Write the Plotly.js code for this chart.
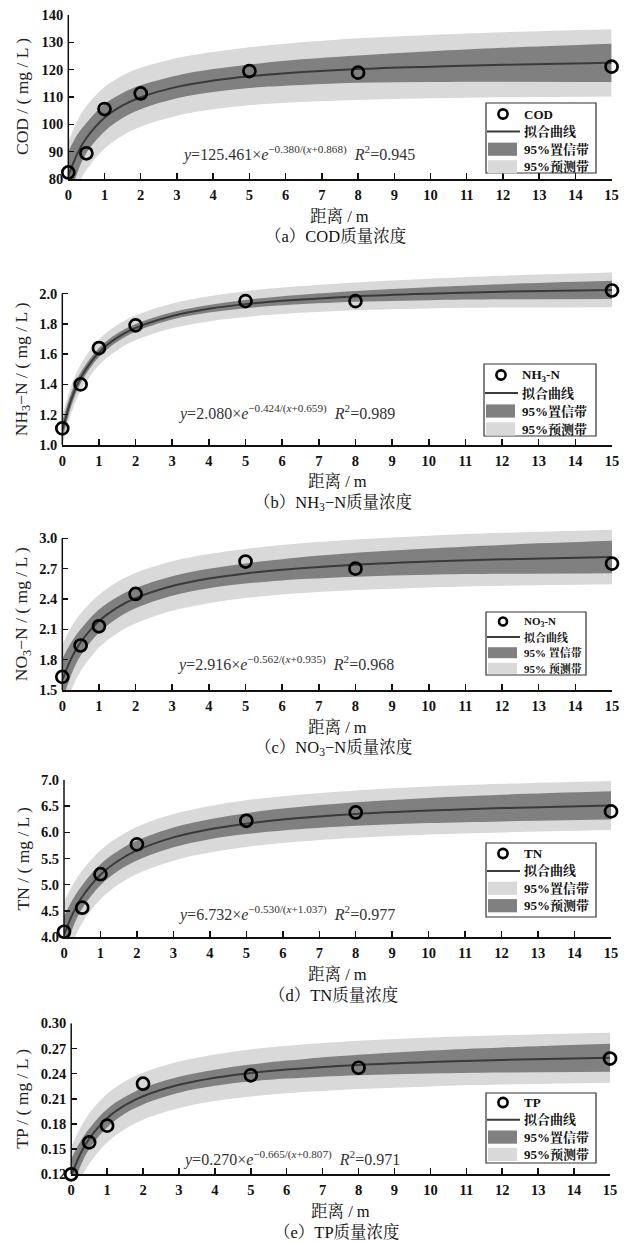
<!DOCTYPE html>
<html>
<head>
<meta charset="utf-8">
<script src="https://cdn.plot.ly/plotly-3.0.1.min.js"></script>
<style>
html,body{margin:0;padding:0;background:#fff;}
#chart{width:631px;height:1243px;}
</style>
</head>
<body>
<div id="chart"></div>
<script>
// ---------------- data ----------------
const distanceM = [0, 0.5, 1, 2, 5, 8, 15];
const codObs = [82.4, 89.4, 105.6, 111.3, 119.5, 118.9, 121.1];
const nh3Obs = [1.11, 1.40, 1.64, 1.79, 1.95, 1.95, 2.02];
const no3Obs = [1.63, 1.94, 2.13, 2.45, 2.77, 2.70, 2.75];
const tnObs  = [4.10, 4.56, 5.20, 5.77, 6.22, 6.38, 6.40];
const tpObs  = [0.120, 0.158, 0.178, 0.228, 0.238, 0.247, 0.258];

const curveX = [0, 0.25, 0.5, 1, 1.5, 2, 3, 4, 5, 6, 8, 10, 12, 15];

const codFit    = [81.0, 89.3, 95.0, 102.4, 106.9, 109.9, 113.7, 116.0, 117.6, 118.7, 120.2, 121.1, 121.8, 122.5];
const codConfLo = [72.0, 82.3, 89.5, 97.4, 102.3, 105.5, 109.5, 111.8, 113.3, 114.1, 115.2, 115.5, 115.6, 115.5];
const codConfHi = [90.0, 96.3, 100.5, 107.4, 111.5, 114.3, 117.9, 120.2, 121.9, 123.3, 125.2, 126.7, 128.0, 129.5];
const codPredLo = [68.5, 77.3, 83.3, 91.1, 95.9, 99.1, 103.1, 105.5, 107.0, 107.9, 108.9, 109.5, 109.9, 110.2];
const codPredHi = [93.5, 101.3, 106.7, 113.7, 117.9, 120.7, 124.3, 126.5, 128.2, 129.5, 131.5, 132.7, 133.7, 134.8];

const nh3Fit    = [1.093, 1.305, 1.443, 1.611, 1.709, 1.773, 1.852, 1.899, 1.930, 1.952, 1.981, 1.999, 2.012, 2.024];
const nh3ConfLo = [1.033, 1.260, 1.408, 1.581, 1.682, 1.748, 1.828, 1.874, 1.903, 1.922, 1.945, 1.956, 1.962, 1.964];
const nh3ConfHi = [1.153, 1.350, 1.478, 1.641, 1.736, 1.798, 1.876, 1.924, 1.957, 1.982, 2.017, 2.042, 2.062, 2.084];
const nh3PredLo = [0.993, 1.215, 1.356, 1.526, 1.626, 1.691, 1.770, 1.816, 1.845, 1.865, 1.889, 1.901, 1.907, 1.910];
const nh3PredHi = [1.193, 1.395, 1.530, 1.696, 1.792, 1.855, 1.934, 1.982, 2.015, 2.039, 2.073, 2.097, 2.117, 2.138];

const no3Fit    = [1.599, 1.815, 1.971, 2.181, 2.315, 2.408, 2.528, 2.602, 2.652, 2.689, 2.738, 2.770, 2.792, 2.815];
const no3ConfLo = [1.389, 1.655, 1.841, 2.066, 2.210, 2.308, 2.431, 2.505, 2.552, 2.584, 2.620, 2.640, 2.649, 2.655];
const no3ConfHi = [1.809, 1.975, 2.101, 2.296, 2.420, 2.508, 2.625, 2.699, 2.752, 2.794, 2.856, 2.900, 2.935, 2.975];
const no3PredLo = [1.249, 1.505, 1.686, 1.921, 2.062, 2.158, 2.283, 2.359, 2.409, 2.444, 2.488, 2.514, 2.530, 2.545];
const no3PredHi = [1.949, 2.125, 2.256, 2.441, 2.568, 2.658, 2.773, 2.845, 2.895, 2.934, 2.988, 3.026, 3.054, 3.085];

const tnFit    = [4.038, 4.460, 4.769, 5.190, 5.462, 5.654, 5.904, 6.060, 6.166, 6.244, 6.349, 6.416, 6.463, 6.513];
const tnConfLo = [3.688, 4.190, 4.549, 4.990, 5.272, 5.464, 5.714, 5.870, 5.966, 6.034, 6.124, 6.176, 6.208, 6.243];
const tnConfHi = [4.388, 4.730, 4.989, 5.390, 5.652, 5.844, 6.094, 6.250, 6.366, 6.454, 6.574, 6.656, 6.718, 6.783];
const tnPredLo = [3.398, 3.910, 4.269, 4.720, 5.007, 5.204, 5.459, 5.615, 5.721, 5.797, 5.897, 5.958, 5.999, 6.043];
const tnPredHi = [4.678, 5.010, 5.269, 5.660, 5.917, 6.104, 6.349, 6.505, 6.611, 6.691, 6.801, 6.874, 6.927, 6.983];

const tpFit    = [0.1184, 0.1439, 0.1623, 0.1869, 0.2024, 0.2131, 0.2267, 0.2351, 0.2408, 0.2449, 0.2504, 0.2539, 0.2563, 0.2589];
const tpConfLo = [0.0984, 0.1289, 0.1503, 0.1759, 0.1924, 0.2033, 0.2172, 0.2255, 0.2308, 0.2342, 0.2382, 0.2402, 0.2413, 0.2421];
const tpConfHi = [0.1384, 0.1589, 0.1743, 0.1979, 0.2124, 0.2229, 0.2362, 0.2447, 0.2508, 0.2556, 0.2626, 0.2676, 0.2713, 0.2757];
const tpPredLo = [0.0844, 0.1129, 0.1323, 0.1579, 0.1739, 0.1851, 0.1989, 0.2073, 0.2128, 0.2167, 0.2217, 0.2248, 0.2269, 0.2291];
const tpPredHi = [0.1524, 0.1749, 0.1923, 0.2159, 0.2309, 0.2411, 0.2545, 0.2629, 0.2688, 0.2731, 0.2791, 0.2830, 0.2857, 0.2887];

const xTicks   = [0,1,2,3,4,5,6,7,8,9,10,11,12,13,14,15];
const codTicks = [80, 90, 100, 110, 120, 130, 140];
const nh3Ticks = [1.0, 1.2, 1.4, 1.6, 1.8, 2.0];
const no3Ticks = [1.5, 1.8, 2.1, 2.4, 2.7, 3.0];
const tnTicks  = [4.0, 4.5, 5.0, 5.5, 6.0, 6.5, 7.0];
const tpTicks  = [0.12, 0.15, 0.18, 0.21, 0.24, 0.27, 0.30];

const seriesNames = ['COD', 'NH<sub>3</sub>-N', 'NO<sub>3</sub>-N', 'TN', 'TP'];
const yTitles = ['COD / ( mg / L )', 'NH<sub>3</sub>−N / ( mg / L )', 'NO<sub>3</sub>−N / ( mg / L )', 'TN / ( mg / L )', 'TP / ( mg / L )'];
const captions = ['（a）COD质量浓度', '（b）NH<sub>3</sub>−N质量浓度', '（c）NO<sub>3</sub>−N质量浓度', '（d）TN质量浓度', '（e）TP质量浓度'];
const equations = [
  '<i>y</i>=125.461×<i>e</i><sup>−0.380/(<i>x</i>+0.868)</sup>\u00a0\u00a0<i>R</i><sup>2</sup>=0.945',
  '<i>y</i>=2.080×<i>e</i><sup>−0.424/(<i>x</i>+0.659)</sup>\u00a0\u00a0<i>R</i><sup>2</sup>=0.989',
  '<i>y</i>=2.916×<i>e</i><sup>−0.562/(<i>x</i>+0.935)</sup>\u00a0\u00a0<i>R</i><sup>2</sup>=0.968',
  '<i>y</i>=6.732×<i>e</i><sup>−0.530/(<i>x</i>+1.037)</sup>\u00a0\u00a0<i>R</i><sup>2</sup>=0.977',
  '<i>y</i>=0.270×<i>e</i><sup>−0.665/(<i>x</i>+0.807)</sup>\u00a0\u00a0<i>R</i><sup>2</sup>=0.971'
];
const fitLabel = '拟合曲线';
const confLabels = ['95%置信带', '95%置信带', '95% 置信带', '95%预测带', '95%置信带'];
const predLabels = ['95%预测带', '95%预测带', '95% 预测带', '95%置信带', '95%预测带'];

// ---------------- layout helpers ----------------
const W = 631, H = 1243;
const FONT = "'Liberation Serif', 'Times New Roman', 'Noto Serif CJK SC', 'Noto Sans CJK SC', serif";
const LIGHT = '#d9d9d9', DARK = '#808080', CURVE = '#3a3a3a';
const fx = p => p / W;
const fy = p => 1 - p / H;

const panels = [
  {obs: codObs, fit: codFit, cLo: codConfLo, cHi: codConfHi, pLo: codPredLo, pHi: codPredHi, ticks: codTicks, fmt: '.0f',
   xPix: [68.3, 611.6], yPix: [179, 15], range: [80, 140], eqPix: [180, 154], swapShade: false,
   leg: {left: 486, right: 596, top: 103, h: 70, row0: 11, gap: 17.6, size: 13}},
  {obs: nh3Obs, fit: nh3Fit, cLo: nh3ConfLo, cHi: nh3ConfHi, pLo: nh3PredLo, pHi: nh3PredHi, ticks: nh3Ticks, fmt: '.1f',
   xPix: [62.3, 612], yPix: [445, 270.8], range: [1.0, 2.15], eqPix: [176, 412], swapShade: false,
   leg: {left: 484, right: 596, top: 364, h: 72, row0: 11, gap: 18, size: 13}},
  {obs: no3Obs, fit: no3Fit, cLo: no3ConfLo, cHi: no3ConfHi, pLo: no3PredLo, pHi: no3PredHi, ticks: no3Ticks, fmt: '.1f',
   xPix: [62.3, 612], yPix: [690, 528.2], range: [1.5, 3.1], eqPix: [175, 663], swapShade: false,
   leg: {left: 486, right: 586, top: 612, h: 63, row0: 9.5, gap: 15.6, size: 11}},
  {obs: tnObs, fit: tnFit, cLo: tnConfLo, cHi: tnConfHi, pLo: tnPredLo, pHi: tnPredHi, ticks: tnTicks, fmt: '.1f',
   xPix: [64, 611], yPix: [937, 780], range: [4.0, 7.0], eqPix: [176, 913], swapShade: true,
   leg: {left: 486, right: 596, top: 843, h: 74, row0: 10.5, gap: 17.4, size: 13}},
  {obs: tpObs, fit: tpFit, cLo: tpConfLo, cHi: tpConfHi, pLo: tpPredLo, pHi: tpPredHi, ticks: tpTicks, fmt: '.2f',
   xPix: [71.2, 610], yPix: [1174.3, 1023.3], range: [0.12, 0.30], eqPix: [181, 1158], swapShade: false,
   leg: {left: 486, right: 596, top: 1093, h: 70, row0: 9.5, gap: 17.3, size: 13}}
];

const data = [];
const layout = {
  width: W, height: H,
  margin: {l: 0, r: 0, t: 0, b: 0},
  paper_bgcolor: '#fff', plot_bgcolor: 'rgba(0,0,0,0)',
  font: {family: FONT, color: '#111'},
  showlegend: false,
  annotations: [], shapes: []
};

panels.forEach((p, i) => {
  const s = i === 0 ? '' : String(i + 1);
  const xa = 'x' + s, ya = 'y' + s;
  const common = {xaxis: xa, yaxis: ya, hoverinfo: 'skip'};

  data.push(Object.assign({x: curveX, y: p.pLo, mode: 'lines', line: {width: 0, shape: 'spline'}}, common));
  data.push(Object.assign({x: curveX, y: p.pHi, mode: 'lines', line: {width: 0, shape: 'spline'}, fill: 'tonexty',
    fillcolor: LIGHT, name: predLabels[i]}, common));
  data.push(Object.assign({x: curveX, y: p.cLo, mode: 'lines', line: {width: 0, shape: 'spline'}}, common));
  data.push(Object.assign({x: curveX, y: p.cHi, mode: 'lines', line: {width: 0, shape: 'spline'}, fill: 'tonexty',
    fillcolor: DARK, name: confLabels[i]}, common));
  data.push(Object.assign({x: curveX, y: p.fit, mode: 'lines', line: {color: CURVE, width: 2, shape: 'spline'},
    name: fitLabel}, common));
  data.push(Object.assign({x: distanceM, y: p.obs, mode: 'markers', cliponaxis: false,
    marker: {symbol: 'circle-open', size: 12, color: '#000', line: {width: 2.7, color: '#000'}},
    name: seriesNames[i]}, common));

  layout['xaxis' + s] = {
    domain: [fx(p.xPix[0]), fx(p.xPix[1])], anchor: ya, range: [0, 15],
    tickvals: xTicks, ticks: 'inside', ticklen: 6, tickwidth: 1.5, tickcolor: '#111',
    showline: true, linewidth: 1.5, linecolor: '#111', showgrid: false, zeroline: false,
    tickfont: {family: FONT, size: 14.5, color: '#111', weight: 700}, ticklabelstandoff: 2, fixedrange: true
  };
  layout['yaxis' + s] = {
    domain: [fy(p.yPix[0]), fy(p.yPix[1])], anchor: xa, range: p.range,
    tickvals: p.ticks, tickformat: p.fmt, ticks: 'inside', ticklen: 6, tickwidth: 1.5, tickcolor: '#111',
    showline: false, showgrid: false, zeroline: false,
    tickfont: {family: FONT, size: 14.5, color: '#111', weight: 700}, ticklabelstandoff: 4, fixedrange: true
  };
  // y axis line only up to the top tick
  layout.shapes.push({type: 'line', xref: xa + ' domain', yref: ya, x0: 0, x1: 0,
    y0: p.range[0], y1: p.ticks[p.ticks.length - 1], line: {color: '#111', width: 1.5}, layer: 'above'});

  // ---- legend box drawn by hand (filled swatches like the original) ----
  const L = p.leg;
  const rowY = k => L.top + L.row0 + k * L.gap;
  layout.shapes.push({type: 'rect', xref: 'paper', yref: 'paper', x0: fx(L.left), x1: fx(L.right),
    y0: fy(L.top + L.h), y1: fy(L.top), fillcolor: '#fff', line: {color: '#333', width: 1.2}, layer: 'above'});
  const cx = L.left + 17, r = L.size === 11 ? 4 : 4.6;
  layout.shapes.push({type: 'circle', xref: 'paper', yref: 'paper', x0: fx(cx - r), x1: fx(cx + r),
    y0: fy(rowY(0) + r), y1: fy(rowY(0) - r), line: {color: '#000', width: 2.6}, layer: 'above'});
  layout.shapes.push({type: 'line', xref: 'paper', yref: 'paper', x0: fx(L.left + 1), x1: fx(L.left + 34),
    y0: fy(rowY(1)), y1: fy(rowY(1)), line: {color: CURVE, width: 2}, layer: 'above'});
  const sw = L.size === 11 ? 5.5 : 6.6;
  const shadeRow2 = p.swapShade ? LIGHT : DARK, shadeRow3 = p.swapShade ? DARK : LIGHT;
  layout.shapes.push({type: 'rect', xref: 'paper', yref: 'paper', x0: fx(L.left + 2), x1: fx(L.left + 31),
    y0: fy(rowY(2) + sw), y1: fy(rowY(2) - sw), fillcolor: shadeRow2, line: {width: 0}, layer: 'above'});
  layout.shapes.push({type: 'rect', xref: 'paper', yref: 'paper', x0: fx(L.left + 2), x1: fx(L.left + 31),
    y0: fy(rowY(3) + sw), y1: fy(rowY(3) - sw), fillcolor: shadeRow3, line: {width: 0}, layer: 'above'});
  const legTexts = [seriesNames[i], fitLabel,
    p.swapShade ? predLabels[i] : confLabels[i],
    p.swapShade ? confLabels[i] : predLabels[i]];
  legTexts.forEach((t, k) => {
    layout.annotations.push({xref: 'paper', yref: 'paper', x: fx(L.left + 36), y: fy(rowY(k)), text: '<b>' + t + '</b>',
      showarrow: false, xanchor: 'left', yanchor: 'middle', font: {family: FONT, size: L.size, color: '#111'}});
  });

  const axisTopPix = p.yPix[0] - (p.ticks[p.ticks.length - 1] - p.range[0]) / (p.range[1] - p.range[0]) * (p.yPix[0] - p.yPix[1]);
  const yMid = (p.yPix[0] + axisTopPix) / 2;
  const xMid = (p.xPix[0] + p.xPix[1]) / 2;

  layout.annotations.push({xref: 'paper', yref: 'paper', x: fx(22), y: fy(yMid), text: yTitles[i],
    textangle: -90, showarrow: false, xanchor: 'center', yanchor: 'middle',
    font: {family: FONT, size: 17.5, color: '#222'}});
  layout.annotations.push({xref: 'paper', yref: 'paper', x: fx(xMid), y: fy(p.yPix[0] + 37), text: '距离 / m',
    showarrow: false, xanchor: 'center', yanchor: 'middle', font: {family: FONT, size: 16.5, color: '#111'}});
  layout.annotations.push({xref: 'paper', yref: 'paper', x: fx(xMid - 4), y: fy(p.yPix[0] + 58), text: captions[i],
    showarrow: false, xanchor: 'center', yanchor: 'middle', font: {family: FONT, size: 16.5, color: '#111'}});
  layout.annotations.push({xref: 'paper', yref: 'paper', x: fx(p.eqPix[0]), y: fy(p.eqPix[1]), text: equations[i],
    showarrow: false, xanchor: 'left', yanchor: 'middle', font: {family: FONT, size: 16, color: '#333'}});
});

Plotly.newPlot('chart', data, layout, {displayModeBar: false, staticPlot: true});
</script>
</body>
</html>
